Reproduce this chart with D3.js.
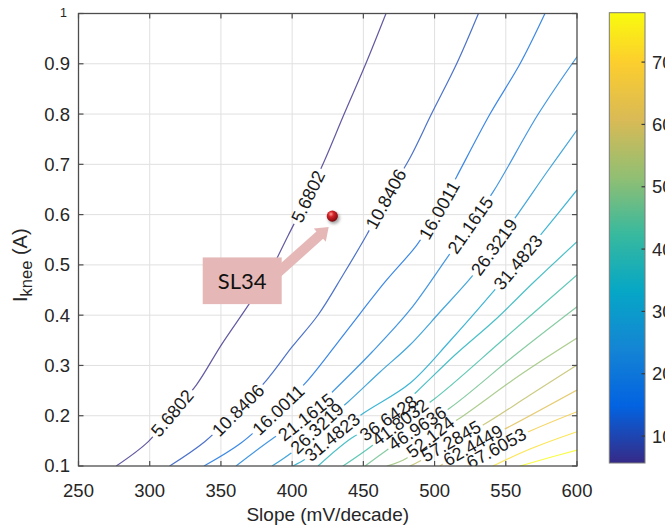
<!DOCTYPE html>
<html>
<head>
<meta charset="utf-8">
<script src="https://cdn.jsdelivr.net/npm/d3@7"></script>
<style>
  body { margin: 0; background: #ffffff; }
  svg text { font-family: "Liberation Sans", Arial, Helvetica, sans-serif; }
</style>
</head>
<body>
<svg id="chart" width="665" height="529"></svg>
<script>
// ---- axis ticks ----
const xTicks = [250, 300, 350, 400, 450, 500, 550, 600];
const yTicks = [0.1, 0.2, 0.3, 0.4, 0.5, 0.6, 0.7, 0.8, 0.9];
const yTopTick = 1;
const cbTicks = [10, 20, 30, 40, 50, 60, 70];

// ---- contour levels (value of each iso-line) ----
const levels = [5.6802, 10.8406, 16.0011, 21.1615, 26.3219, 31.4823, 36.6428,
                41.8032, 46.9636, 52.124, 57.2845, 62.4449, 67.6053, 72.7658, 77.9262];

// ---- iso-line traces, [slope mV/decade, Iknee A] ----
const iso05 = [[276.5,0.1],[298.8,0.148],[315.6,0.205],[332.7,0.261],[350.3,0.341],[370.2,0.424],
               [385,0.49],[397.3,0.559],[410,0.63],[421.9,0.702],[436.5,0.8],[451.7,0.9],[465.9,1.0]];
const iso10 = [[314,0.1],[338.6,0.1483],[362,0.2114],[382.1,0.271],[399.9,0.3367],[418.2,0.4003],
               [435.7,0.4799],[452.3,0.5594],[467.3,0.639],[482.7,0.7126],[497.8,0.8],[515.5,0.9],[530.8,1.0]];
const iso16 = [[338.1,0.1],[364.1,0.1457],[390.1,0.2114],[410.2,0.2677],[437.1,0.3645],
               [465.2,0.466],[487.5,0.5395],[502.4,0.6052],[515.5,0.6754],[538.9,0.8],[560,0.9],[577.5,1.0]];
const iso21 = [[360.6,0.1],[385.9,0.1537],[409.7,0.1975],[428.9,0.2492],[456.1,0.3267],
               [482.7,0.4103],[508.5,0.5131],[524.9,0.5793],[541.2,0.6456],[572.8,0.8],[600,0.914]];
const iso26 = [[385.9,0.1],[402,0.1318],[417.5,0.1756],[439.4,0.2279],[461.7,0.287],[482.7,0.3407],
               [503.8,0.4063],[526.1,0.4765],[541.7,0.5356],[558.8,0.6026],[578.9,0.6847],[600,0.7683]];
const iso31 = [[400.6,0.1],[410.2,0.1153],[428,0.1577],[450,0.2048],[482.7,0.2645],[510.8,0.3486],
               [541.2,0.4467],[558.6,0.5057],[576.3,0.566],[600,0.649]];
const iso36 = [[418.2,0.1],[441.8,0.1557],[467.3,0.1955],[487.5,0.2478],[514.3,0.3208],[542.4,0.3904],
               [570.5,0.4679],[600,0.5461]];
const iso41 = [[435.7,0.1],[456.8,0.1418],[475.7,0.1875],[498.9,0.2313],[549.4,0.3546],[600,0.4799]];
const iso46 = [[451.2,0.1],[466.6,0.1318],[487.7,0.1756],[510.8,0.2154],[556.5,0.3208],[600,0.4168]];
const iso52 = [[466.6,0.1],[480.6,0.1159],[496.8,0.1577],[517.9,0.1955],[560,0.281],[600,0.3546]];
const iso57 = [[482.7,0.1],[489.8,0.1099],[511.5,0.1497],[534,0.1815],[567,0.2412],[600,0.3009]];
const iso62 = [[503.8,0.1],[527,0.1418],[548,0.1716],[600,0.2512]];
const iso67 = [[521.4,0.1],[543.2,0.1358],[565.6,0.1676],[600,0.208]];
const iso72 = [[541,0.1],[567,0.1338],[600,0.1682]];
const iso77 = [[560,0.1],[579.6,0.1159],[600,0.1318]];

// ---- where each iso-line carries its value label ----
const lab05 = [[315.6,0.2054],[412.6,0.634]];
const lab10 = [[362,0.2114],[467.3,0.629]];
const lab16 = [[390.1,0.2114],[503.1,0.609]];
const lab21 = [[409.7,0.1975],[524.9,0.5793]];
const lab26 = [[417.4,0.1756],[541.7,0.5356]];
const lab31 = [[428,0.1577],[558.6,0.5057]];
const lab36 = [[467.3,0.1955]];
const lab41 = [[475.7,0.1875]];
const lab46 = [[487.6,0.1756]];
const lab52 = [[496.8,0.1577]];
const lab57 = [[511.5,0.1497]];
const lab62 = [[527,0.1418]];
const lab67 = [[543.2,0.1358]];
const lab72 = [];
const lab77 = [];

// ---- highlighted operating point ----
const pointName = ["SL34"];
const pointSlope = [428.2];
const pointIknee = [0.597];

// parula colormap anchors (rows 1,9,17,...,64 of the 64-entry table)
const parulaRows = [0, 8, 16, 24, 32, 40, 48, 56, 63];
const parulaRGB = [[0.2081,0.1663,0.5292],[0.0117,0.3875,0.8820],[0.0793,0.5200,0.8312],
                   [0.0228,0.6535,0.7768],[0.2178,0.7250,0.6193],[0.5709,0.7485,0.4494],
                   [0.8507,0.7299,0.3360],[0.9880,0.8066,0.1794],[0.9763,0.9831,0.0538]];

const isoPts = [iso05, iso10, iso16, iso21, iso26, iso31, iso36, iso41, iso46, iso52, iso57, iso62, iso67, iso72, iso77];
const isoLab = [lab05, lab10, lab16, lab21, lab26, lab31, lab36, lab41, lab46, lab52, lab57, lab62, lab67, lab72, lab77];

// ---------------------------------------------------------------
const svg = d3.select("#chart");
const W = 665, H = 529;
const plot = { left: 78.5, right: 577, top: 13.5, bottom: 466 };
const x = d3.scaleLinear().domain([250, 600]).range([plot.left, plot.right]);
const y = d3.scaleLinear().domain([0.1, 1]).range([plot.bottom, plot.top]);

const parula = d3.scaleLinear()
  .domain(parulaRows.map(r => r / 63))
  .range(parulaRGB.map(c => d3.rgb(c[0] * 255, c[1] * 255, c[2] * 255)))
  .interpolate(d3.interpolateRgb);
const cMin = d3.min(levels), cMax = d3.max(levels);
const colorOf = v => parula((v - cMin) / (cMax - cMin));

const defs = svg.append("defs");
defs.append("clipPath").attr("id", "plotClip")
  .append("rect")
  .attr("x", plot.left).attr("y", plot.top)
  .attr("width", plot.right - plot.left).attr("height", plot.bottom - plot.top);

// grid
const grid = svg.append("g").attr("class", "grid");
grid.selectAll("line.gx").data(xTicks.slice(1, -1)).join("line")
  .attr("x1", d => x(d)).attr("x2", d => x(d))
  .attr("y1", plot.top).attr("y2", plot.bottom)
  .attr("stroke", "#e0e0e0").attr("stroke-width", 1);
grid.selectAll("line.gy").data(yTicks.slice(1)).join("line")
  .attr("y1", d => y(d)).attr("y2", d => y(d))
  .attr("x1", plot.left).attr("x2", plot.right)
  .attr("stroke", "#e0e0e0").attr("stroke-width", 1);

// contour lines, broken where their value labels sit
const mask = defs.append("mask").attr("id", "labelGaps")
  .attr("maskUnits", "userSpaceOnUse")
  .attr("x", 0).attr("y", 0).attr("width", W).attr("height", H);
mask.append("rect").attr("x", 0).attr("y", 0).attr("width", W).attr("height", H).attr("fill", "#fff");

const lineGen = d3.line().x(d => x(d[0])).y(d => y(d[1])).curve(d3.curveCatmullRom.alpha(0.5));
const lineLayer = svg.append("g").attr("clip-path", "url(#plotClip)");
const lines = lineLayer.append("g").attr("mask", "url(#labelGaps)");
const labelLayer = svg.append("g").attr("clip-path", "url(#plotClip)");

levels.forEach((lv, k) => {
  const path = lines.append("path")
    .attr("d", lineGen(isoPts[k]))
    .attr("fill", "none")
    .attr("stroke", colorOf(lv))
    .attr("stroke-opacity", 0.78)
    .attr("stroke-width", 1.2);
  const node = path.node();
  const total = node.getTotalLength();
  const samples = [];
  for (let l = 0; l <= total; l += 0.5) samples.push({ l, p: node.getPointAtLength(l) });
  isoLab[k].forEach(sp => {
    const px = x(sp[0]), py = y(sp[1]);
    let best = samples[0], bd = Infinity;
    samples.forEach(s => {
      const d = (s.p.x - px) ** 2 + (s.p.y - py) ** 2;
      if (d < bd) { bd = d; best = s; }
    });
    const a = node.getPointAtLength(Math.max(0, best.l - 10));
    const b = node.getPointAtLength(Math.min(total, best.l + 10));
    let ang = Math.atan2(b.y - a.y, b.x - a.x) * 180 / Math.PI;
    if (ang > 90) ang -= 180;
    if (ang < -90) ang += 180;
    const t = labelLayer.append("text")
      .attr("transform", `translate(${best.p.x},${best.p.y}) rotate(${ang})`)
      .attr("text-anchor", "middle")
      .attr("dy", "0.36em")
      .attr("font-size", 18)
      .attr("fill", "#1a1a1a")
      .text(String(lv));
    const len = t.node().getComputedTextLength();
    mask.append("rect")
      .attr("transform", `translate(${best.p.x},${best.p.y}) rotate(${ang})`)
      .attr("x", -len / 2 - 3).attr("y", -8)
      .attr("width", len + 6).attr("height", 16)
      .attr("fill", "#000");
  });
});

// axes box and ticks (inside, on all four sides)
const axisColor = "#4d4d4d";
const ax = svg.append("g");
ax.append("rect")
  .attr("x", plot.left).attr("y", plot.top)
  .attr("width", plot.right - plot.left).attr("height", plot.bottom - plot.top)
  .attr("fill", "none").attr("stroke", axisColor).attr("stroke-width", 1.3);
const tl = 5;
xTicks.forEach(v => {
  ax.append("line").attr("x1", x(v)).attr("x2", x(v)).attr("y1", plot.bottom).attr("y2", plot.bottom - tl)
    .attr("stroke", axisColor).attr("stroke-width", 1.2);
  ax.append("line").attr("x1", x(v)).attr("x2", x(v)).attr("y1", plot.top).attr("y2", plot.top + tl)
    .attr("stroke", axisColor).attr("stroke-width", 1.2);
});
yTicks.concat([yTopTick]).forEach(v => {
  ax.append("line").attr("y1", y(v)).attr("y2", y(v)).attr("x1", plot.left).attr("x2", plot.left + tl)
    .attr("stroke", axisColor).attr("stroke-width", 1.2);
  ax.append("line").attr("y1", y(v)).attr("y2", y(v)).attr("x1", plot.right).attr("x2", plot.right - tl)
    .attr("stroke", axisColor).attr("stroke-width", 1.2);
});

// tick labels
const tickFont = 18.5, textColor = "#262626";
svg.append("g").selectAll("text").data(xTicks).join("text")
  .attr("x", d => x(d)).attr("y", 497)
  .attr("text-anchor", "middle").attr("font-size", tickFont).attr("fill", textColor)
  .text(d => d);
svg.append("g").selectAll("text").data(yTicks).join("text")
  .attr("x", 70).attr("y", d => y(d)).attr("dy", "0.35em")
  .attr("text-anchor", "end").attr("font-size", tickFont).attr("fill", textColor)
  .text(d => d3.format(".1f")(d));
svg.append("text")
  .attr("x", 67).attr("y", y(yTopTick)).attr("dy", "0.3em")
  .attr("text-anchor", "end").attr("font-size", 12.5).attr("fill", textColor)
  .text(yTopTick);

// axis titles
svg.append("text")
  .attr("x", (plot.left + plot.right) / 2).attr("y", 521)
  .attr("text-anchor", "middle").attr("font-size", 19).attr("fill", textColor)
  .text("Slope (mV/decade)");
const yl = svg.append("text")
  .attr("transform", "translate(27,302) rotate(-90)")
  .attr("text-anchor", "start").attr("font-size", 20).attr("fill", textColor);
yl.append("tspan").text("I");
yl.append("tspan").attr("font-size", 16.5).attr("dy", 4.5).text("knee");
yl.append("tspan").attr("dy", -4.5).text(" (A)");

// colorbar
const cb = { left: 609.3, right: 645, top: 12.7, bottom: 463 };
const cbY = d3.scaleLinear().domain([cMin, cMax]).range([cb.bottom, cb.top]);
const grad = defs.append("linearGradient").attr("id", "cbGrad")
  .attr("x1", 0).attr("y1", 1).attr("x2", 0).attr("y2", 0);
d3.range(0, 1.0001, 1 / 63).forEach(t => {
  grad.append("stop").attr("offset", t).attr("stop-color", parula(t));
});
svg.append("rect")
  .attr("x", cb.left).attr("y", cb.top)
  .attr("width", cb.right - cb.left).attr("height", cb.bottom - cb.top)
  .attr("fill", "url(#cbGrad)").attr("stroke", "#7a7a7a").attr("stroke-width", 1);
cbTicks.forEach(v => {
  svg.append("line").attr("x1", cb.right).attr("x2", cb.right - 3.5)
    .attr("y1", cbY(v)).attr("y2", cbY(v)).attr("stroke", "#3a3a3a").attr("stroke-width", 1.2);
  svg.append("text").attr("x", 652).attr("y", cbY(v)).attr("dy", "0.35em")
    .attr("font-size", tickFont).attr("fill", textColor).text(v);
});

// highlighted point with callout
const px0 = x(pointSlope[0]), py0 = y(pointIknee[0]);
const ball = defs.append("radialGradient").attr("id", "ball")
  .attr("cx", "38%").attr("cy", "32%").attr("r", "70%");
ball.append("stop").attr("offset", "0%").attr("stop-color", "#ff9a8f");
ball.append("stop").attr("offset", "35%").attr("stop-color", "#d2232a");
ball.append("stop").attr("offset", "80%").attr("stop-color", "#9a1016");
ball.append("stop").attr("offset", "100%").attr("stop-color", "#6e0a0c");
defs.append("filter").attr("id", "soft").attr("x", "-50%").attr("y", "-50%").attr("width", "200%").attr("height", "200%")
  .append("feGaussianBlur").attr("stdDeviation", 1.6);

const callout = svg.append("g");
const fillPink = "#e5b8b7";
// arrow pointing at the marker
const tipX = px0 - 3.6, tipY = py0 + 11;
const arrowAng = -41.8;
const shaftLen = 80, headLen = 12, headHalf = 9, shaftHalf = 5;
callout.append("path")
  .attr("transform", `translate(${tipX},${tipY}) rotate(${arrowAng})`)
  .attr("d", `M0,0 L${-headLen},${-headHalf} L${-headLen},${-shaftHalf} L${-shaftLen},${-shaftHalf}
              L${-shaftLen},${shaftHalf} L${-headLen},${shaftHalf} L${-headLen},${headHalf} Z`)
  .attr("fill", fillPink);
const boxW = 79, boxH = 46.7;
const boxX = px0 - 129.6, boxY = py0 + 41.3;
callout.append("rect").attr("x", boxX).attr("y", boxY).attr("width", boxW).attr("height", boxH)
  .attr("fill", fillPink);
callout.append("text")
  .attr("x", boxX + boxW / 2).attr("y", boxY + boxH / 2).attr("dy", "0.36em")
  .attr("text-anchor", "middle")
  .style("font-family", "Lato, 'Open Sans', sans-serif")
  .attr("font-size", 22).attr("fill", "#111")
  .text(pointName[0]);

svg.append("circle").attr("cx", px0 + 1.5).attr("cy", py0 + 2).attr("r", 6)
  .attr("fill", "rgba(0,0,0,0.35)").attr("filter", "url(#soft)");
svg.append("circle").attr("cx", px0).attr("cy", py0).attr("r", 5.6)
  .attr("fill", "url(#ball)");
</script>
</body>
</html>
